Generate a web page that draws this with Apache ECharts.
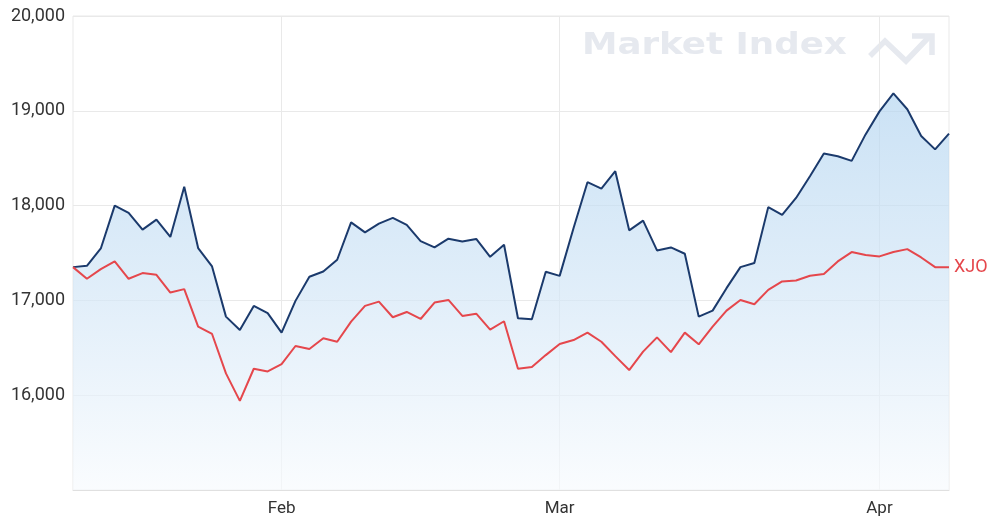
<!DOCTYPE html>
<html>
<head>
<meta charset="utf-8">
<script src="https://cdn.jsdelivr.net/npm/echarts@6/dist/echarts.min.js"></script>
<style>
html,body{margin:0;padding:0;background:#fff;}
#chart{width:1000px;height:528px;}
</style>
</head>
<body>
<div id="chart"></div>
<script>
// Trading days (categories)
const dates = [
 '2023-01-10','2023-01-11','2023-01-12','2023-01-13','2023-01-16','2023-01-17','2023-01-18','2023-01-19','2023-01-20',
 '2023-01-23','2023-01-24','2023-01-25','2023-01-27','2023-01-30','2023-01-31',
 '2023-02-01','2023-02-02','2023-02-03','2023-02-06','2023-02-07','2023-02-08','2023-02-09','2023-02-10',
 '2023-02-13','2023-02-14','2023-02-15','2023-02-16','2023-02-17','2023-02-20','2023-02-21','2023-02-22',
 '2023-02-23','2023-02-24','2023-02-27','2023-02-28',
 '2023-03-01','2023-03-02','2023-03-03','2023-03-06','2023-03-07','2023-03-08','2023-03-09','2023-03-10',
 '2023-03-13','2023-03-14','2023-03-15','2023-03-16','2023-03-17','2023-03-20','2023-03-21','2023-03-22',
 '2023-03-23','2023-03-24','2023-03-27','2023-03-28','2023-03-29','2023-03-30','2023-03-31',
 '2023-04-03','2023-04-04','2023-04-05','2023-04-06','2023-04-11','2023-04-12'
];
const monthNames = ['Jan','Feb','Mar','Apr','May','Jun','Jul','Aug','Sep','Oct','Nov','Dec'];

// Navy series (stock, rebased)
const stockValues = [
 17351,17365,17548,18000,17923,17746,17852,17669,18198,17552,17358,16829,16688,16942,16865,
 16660,16995,17250,17305,17429,17823,17718,17810,17870,17796,17625,17559,17651,17622,17648,17460,17587,16812,16801,17302,
 17259,17764,18247,18180,18363,17739,17841,17527,17559,17492,16829,16892,17129,17351,17394,17984,17902,18081,18310,18550,18521,18472,18751,
 18994,19183,19016,18735,18593,18759
];
// Red series: XJO (rebased)
const xjoValues = [
 17351,17228,17330,17411,17228,17288,17270,17083,17119,16723,16646,16230,15940,16279,16251,
 16328,16519,16487,16600,16564,16776,16942,16987,16822,16878,16804,16977,17005,16836,16860,16691,16780,16279,16297,16423,
 16540,16582,16660,16564,16412,16265,16460,16610,16455,16660,16537,16723,16892,17005,16960,17111,17200,17210,17260,17278,17411,17510,17478,
 17464,17510,17541,17453,17351,17351
];
const yTicks = [15000,16000,17000,18000,19000,20000];
const seriesLabel = 'XJO';

function monthStart(i){
  return i > 0 && dates[i].slice(5,7) !== dates[i-1].slice(5,7);
}

const chart = echarts.init(document.getElementById('chart'));
const gridColor = '#e9e9e9';
const wmColor = '#e6e9ef';
chart.setOption({
  animation: false,
  grid: {left: 73, right: 51, top: 16, bottom: 38, show: true, borderColor: gridColor, borderWidth: 1},
  xAxis: {
    type: 'category',
    data: dates,
    boundaryGap: false,
    axisLine: {show: true, lineStyle: {color: '#e0e0e0'}},
    axisTick: {show: false},
    axisLabel: {
      interval: (i) => monthStart(i),
      formatter: (v) => monthNames[parseInt(v.slice(5,7),10)-1],
      color: '#333',
      fontSize: 17,
      fontFamily: 'Roboto',
      margin: 10
    },
    splitLine: {show: true, interval: (i) => monthStart(i), lineStyle: {color: gridColor}}
  },
  yAxis: {
    type: 'value',
    min: yTicks[0],
    max: yTicks[yTicks.length-1],
    interval: 1000,
    axisLine: {show: false},
    axisTick: {show: false},
    axisLabel: {
      showMinLabel: false,
      formatter: (v) => v === yTicks[0] ? '' : v.toLocaleString('en-US'),
      color: '#333',
      fontSize: 18,
      fontFamily: 'Roboto',
      margin: 8
    },
    splitLine: {lineStyle: {color: gridColor}}
  },
  graphic: [
    {
      type: 'text', x: 582, y: 30, scaleX: 1.15, z: 0, silent: true,
      style: {text: 'Market Index', fill: wmColor, font: 'bold 31px "DejaVu Sans"', textVerticalAlign: 'top'}
    },
    {
      type: 'polyline', z: 0, silent: true,
      shape: {points: [[870,56],[885,41],[906,61],[929,37]]},
      style: {stroke: wmColor, lineWidth: 5.5, fill: null, lineJoin: 'miter'}
    },
    {
      type: 'polyline', z: 0, silent: true,
      shape: {points: [[912,36],[932,36],[932,55]]},
      style: {stroke: wmColor, lineWidth: 5.5, fill: null, lineJoin: 'miter'}
    }
  ],
  series: [
    {
      type: 'line',
      data: stockValues,
      symbol: 'none',
      lineStyle: {color: '#1b3a6c', width: 2},
      areaStyle: {
        origin: 'start',
        color: new echarts.graphic.LinearGradient(0, 0, 0, 1, [
          {offset: 0, color: '#b4d5f0'},
          {offset: 0.5, color: '#d3e6f6'},
          {offset: 1, color: '#f7fafd'}
        ])
      },
      z: 2
    },
    {
      type: 'line',
      name: seriesLabel,
      data: xjoValues,
      symbol: 'none',
      lineStyle: {color: '#e5474c', width: 2},
      endLabel: {show: true, formatter: seriesLabel, color: '#e5474c', fontSize: 18, fontFamily: 'Roboto', distance: 5},
      z: 3
    }
  ]
});
</script>
</body>
</html>
